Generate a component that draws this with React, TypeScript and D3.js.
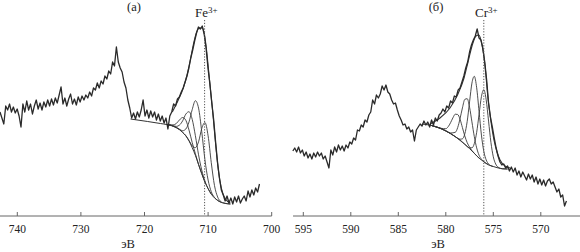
import React from 'react';
import * as d3 from 'd3';

// ---------- Fe 2p panel (а) ----------
const feStartE = 742.72;
const feStepE = 0.3;
const feIntensity = [
  98, 92, 86, 104, 100, 106, 98, 103, 97, 101, 94, 83, 106, 98, 109, 100, 106, 96, 104, 110,
  101, 107, 100, 108, 103, 110, 104, 111, 105, 112, 107, 115, 123, 106, 112, 104, 111, 116, 106, 111,
  105, 113, 108, 114, 110, 115, 112, 118, 114, 122, 120, 127, 122, 129, 126, 134, 131, 139, 136, 148,
  144, 163, 148, 142, 138, 128, 122, 110, 102, 92, 97, 91, 98, 93, 100, 110, 94, 100, 92, 99,
  93, 98, 90, 96, 89, 94, 87, 92, 81, 94, 98, 106, 104, 111, 113, 118, 122, 128, 134, 142,
  152, 160, 169, 177, 183, 181, 184, 176, 162, 142, 126, 107, 90, 68, 48, 32, 20, 15, 9, 14,
  7, 12, 6, 13, 8, 14, 7, 11, 14, 9, 19, 13, 20, 15, 22, 18, 26,
];
const feBackground: [number, number][] = [
  [722.2, 91], [719.5, 88.5], [717.5, 86.5], [717.0, 86], [716.5, 85.5], [716.0, 85], [715.5, 83.9],
  [715.0, 82.4], [714.5, 80.5], [714.0, 77.6], [713.5, 74.2], [713.0, 69.1], [712.5, 62.4], [712.0, 54.7],
  [711.5, 45.4], [711.0, 36.4], [710.5, 28], [710.0, 21.4], [709.5, 15.9], [709.0, 12.1], [708.5, 9.6],
  [708.0, 7.8], [707.5, 6.9], [707.0, 6.3], [706.5, 6],
];
const feComp1: [number, number][] = [
  [716.5, 85.5], [716.0, 85.2], [715.5, 85.1], [715.0, 86.5], [714.5, 90.1], [714.0, 92.5], [713.5, 89.7],
  [713.0, 79.9], [712.5, 67.5], [712.0, 56.3], [711.5, 45.7], [711.0, 36.4], [710.5, 28],
];
const feComp2: [number, number][] = [
  [716.5, 85.5], [716.0, 85], [715.0, 83.6], [714.5, 84.9], [714.0, 89.2], [713.5, 95.9], [713.0, 98.3],
  [712.5, 90.7], [712.0, 74.3], [711.5, 55.2], [711.0, 39.9], [710.5, 28.9], [710.0, 21.4], [709.5, 15.9],
];
const feComp3: [number, number][] = [
  [716.5, 85.5], [715.5, 83.9], [715.0, 82.5], [714.5, 80.8], [714.0, 79.3], [713.5, 81], [713.0, 88.1],
  [712.5, 100.4], [712.0, 109.3], [711.5, 101.9], [711.0, 78.3], [710.5, 50.3], [710.0, 30], [709.5, 18.3],
  [709.0, 12.6], [708.5, 9.6], [708.0, 7.8],
];
const feComp4: [number, number][] = [
  [716.5, 85.5], [715.0, 82.4], [714.0, 77.6], [713.5, 74.3], [713.0, 69.4], [712.5, 64.2], [712.0, 62.4],
  [711.5, 68.2], [711.0, 81.4], [710.5, 87.5], [710.0, 74.2], [709.5, 47.3], [709.0, 24.6], [708.5, 13],
  [708.0, 8.4], [707.5, 6.9], [707.0, 6.3], [706.5, 6],
];
const feEnvelope: [number, number][] = [
  [715.63, 98], [714.69, 110], [713.9, 122], [713.27, 136], [712.8, 150], [712.33, 165], [711.85, 177],
  [711.38, 182], [710.91, 182], [710.59, 176], [710.28, 162], [709.96, 142], [709.65, 122], [709.33, 102],
  [709.02, 80], [708.7, 58], [708.39, 40], [707.92, 22], [707.29, 11], [706.5, 7],
];
const feTicks = [740, 730, 720, 710, 700];
const fePeakE = 710.55;

// ---------- Cr 2p panel (б) ----------
const crStartE = 596.1;
const crStepE = 0.2;
const crIntensity = [
  59, 62, 58, 63, 57, 60, 54, 58, 52, 56, 51, 57, 53, 58, 54, 57, 51, 54, 48, 42,
  60, 55, 63, 58, 65, 60, 64, 59, 65, 62, 68, 66, 72, 70, 80, 79, 85, 83, 90, 88,
  95, 98, 110, 106, 115, 112, 116, 124, 120, 125, 118, 116, 110, 106, 107, 100, 94, 90, 85, 86,
  81, 83, 78, 80, 69, 80, 83, 86, 84, 89, 85, 88, 83, 90, 85, 92, 89, 95, 97, 101,
  98, 104, 102, 109, 107, 114, 113, 120, 122, 128, 134, 142, 148, 158, 165, 170, 174, 181, 172, 170,
  162, 148, 130, 107, 93, 83, 72, 62, 54, 48, 45, 46, 42, 44, 39, 43, 38, 42, 35, 39,
  33, 38, 34, 30, 36, 31, 35, 28, 33, 26, 31, 25, 30, 24, 29, 31, 26, 28, 23, 18,
  21, 13, 15, 4, 9,
];
const crBackground: [number, number][] = [
  [582.5, 86], [581.5, 84.5], [581.0, 83.1], [580.5, 81.5], [580.0, 79.1], [579.5, 76.6], [579.0, 73.3],
  [578.5, 70], [578.0, 65.7], [577.5, 61.4], [577.0, 56.7], [576.5, 51.9], [576.0, 48.3], [575.5, 45.2],
  [575.0, 43.5], [574.5, 42.1], [574.0, 41.2], [573.5, 41],
];
const crComp1: [number, number][] = [
  [581.5, 84.5], [581.0, 83.1], [580.5, 81.7], [580.0, 81.3], [579.75, 83.3], [579.5, 87.3], [579.25, 92.2],
  [579.0, 95.8], [578.75, 95.5], [578.5, 90.7], [578.25, 82.4], [578.0, 74], [577.75, 67.4], [577.5, 62.9],
  [577.25, 59.5], [577.0, 56.7], [576.5, 51.9],
];
const crComp2: [number, number][] = [
  [581.5, 84.5], [580.5, 81.5], [580.0, 79.1], [579.5, 77], [579.0, 77.7], [578.75, 82.4], [578.5, 91.4],
  [578.25, 102.1], [578.0, 110.6], [577.75, 111.3], [577.5, 102.8], [577.25, 88.1], [577.0, 73.4],
  [576.75, 62.1], [576.5, 54.8], [576.25, 50.8], [576.0, 48.3], [575.5, 45.2],
];
const crComp3: [number, number][] = [
  [581.5, 84.5], [580.0, 79.1], [579.0, 73.3], [578.5, 70.8], [578.25, 71.2], [578.0, 76.1], [577.75, 88.5],
  [577.5, 108.1], [577.25, 126.9], [577.0, 133.7], [576.75, 122.2], [576.5, 98.6], [576.25, 74.9],
  [576.0, 58.7], [575.75, 50.1], [575.5, 46], [575.25, 44.2], [575.0, 43.5],
];
const crComp4: [number, number][] = [
  [581.5, 84.5], [580.0, 79.1], [579.0, 73.3], [578.0, 65.7], [577.5, 62.2], [577.25, 62.2], [577.0, 66.4],
  [576.75, 77.7], [576.5, 95.6], [576.25, 113.4], [576.0, 120.3], [575.75, 110.2], [575.5, 88.9],
  [575.25, 67.6], [575.0, 53.2], [574.75, 46], [574.5, 42.9], [574.0, 41.2], [573.5, 41],
];
const crEnvelope: [number, number][] = [
  [581.66, 86], [580.61, 92], [579.56, 102], [578.72, 116], [578.08, 132], [577.66, 148], [577.24, 164],
  [576.82, 174], [576.51, 175], [576.19, 165], [575.87, 144], [575.56, 112], [575.24, 88], [574.93, 70],
  [574.61, 58], [574.29, 50], [573.77, 44], [573.24, 42],
];
const crTicks = [595, 590, 585, 580, 575, 570];
const crPeakE = 576.0;

const FONT = '"Liberation Serif", "Times New Roman", Times, serif';
const AXIS_Y = 216;

type PanelProps = {
  x: d3.ScaleLinear<number, number>;
  y: d3.ScaleLinear<number, number>;
  spectrum: [number, number][];
  background: [number, number][];
  comps: [number, number][][];
  envelope: [number, number][];
  ticks: number[];
  axisStart: number;
  axisEnd: number;
  panelLabel: string;
  panelLabelX: number;
  element: string;
  elementX: number;
  peakE: number;
  unitX: number;
};

function Panel(p: PanelProps) {
  const raw = d3.line<[number, number]>().x(d => p.x(d[0])).y(d => p.y(d[1]));
  const smooth = d3
    .line<[number, number]>()
    .x(d => p.x(d[0]))
    .y(d => p.y(d[1]))
    .curve(d3.curveMonotoneX);
  const px = p.x(p.peakE);
  return (
    <g>
      {p.comps.map((c, i) => (
        <path key={i} d={smooth(c) || ''} fill="none" stroke="#3a3a3a" strokeWidth={0.9} />
      ))}
      <path d={smooth(p.background) || ''} fill="none" stroke="#333" strokeWidth={1} />
      <path d={smooth(p.envelope) || ''} fill="none" stroke="#333" strokeWidth={1.1} />
      <path d={raw(p.spectrum) || ''} fill="none" stroke="#2a2a2a" strokeWidth={1.3} strokeLinejoin="round" />
      <line x1={px} x2={px} y1={20} y2={AXIS_Y} stroke="#555" strokeWidth={1} strokeDasharray="1.2,1.6" />
      <line x1={p.x(p.axisStart)} x2={p.x(p.axisEnd)} y1={AXIS_Y} y2={AXIS_Y} stroke="#666" strokeWidth={1} />
      {p.ticks.map(t => (
        <g key={t}>
          <line x1={p.x(t)} x2={p.x(t)} y1={AXIS_Y} y2={AXIS_Y - 4} stroke="#666" strokeWidth={1} />
          <text x={p.x(t)} y={233} textAnchor="middle" fontSize={11.5} fontFamily={FONT} fill="#222">
            {t}
          </text>
        </g>
      ))}
      <text x={p.unitX} y={248} textAnchor="middle" fontSize={12.5} fontFamily={FONT} fill="#222">
        эВ
      </text>
      <text x={p.panelLabelX} y={11} textAnchor="middle" fontSize={12.5} fontFamily={FONT} fill="#222">
        {p.panelLabel}
      </text>
      <text x={p.elementX} y={17} fontSize={13} fontFamily={FONT} fill="#222">
        {p.element}
        <tspan fontSize={9} dy={-4}>3+</tspan>
      </text>
    </g>
  );
}

export default function App() {
  const W = 580;
  const H = 252;
  const xFe = d3.scaleLinear().domain([740, 700]).range([17.3, 271.7]);
  const xCr = d3.scaleLinear().domain([595, 570]).range([303.3, 540.8]);
  const y = d3.scaleLinear().domain([0, 190]).range([210, 20]);

  const feSpectrum: [number, number][] = feIntensity.map((v, i) => [feStartE - i * feStepE, v]);
  const crSpectrum: [number, number][] = crIntensity.map((v, i) => [crStartE - i * crStepE, v]);

  return (
    <svg width={W} height={H} style={{ position: 'absolute', left: 0, top: 0, background: '#fff' }}>
      <Panel
        x={xFe}
        y={y}
        spectrum={feSpectrum}
        background={feBackground}
        comps={[feComp1, feComp2, feComp3, feComp4]}
        envelope={feEnvelope}
        ticks={feTicks}
        axisStart={742.72}
        axisEnd={700}
        panelLabel="(а)"
        panelLabelX={134}
        element="Fe"
        elementX={195}
        peakE={fePeakE}
        unitX={128}
      />
      <Panel
        x={xCr}
        y={y}
        spectrum={crSpectrum}
        background={crBackground}
        comps={[crComp1, crComp2, crComp3, crComp4]}
        envelope={crEnvelope}
        ticks={crTicks}
        axisStart={596.08}
        axisEnd={565.8}
        panelLabel="(б)"
        panelLabelX={436}
        element="Cr"
        elementX={475}
        peakE={crPeakE}
        unitX={438}
      />
    </svg>
  );
}
